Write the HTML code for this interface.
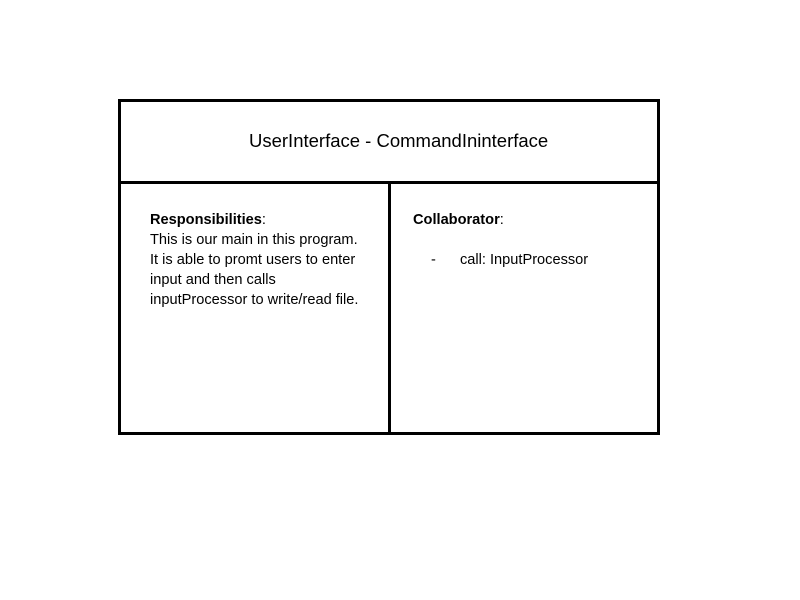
<!DOCTYPE html>
<html><head><style>
body{margin:0;width:800px;height:600px;background:#fff;position:relative;font-family:"Liberation Sans",sans-serif;color:#000;overflow:hidden}
.l{position:absolute;background:#000}
.t{position:absolute;font-size:14.6px;line-height:20px;white-space:nowrap}
</style></head><body>
<div class="l" style="left:118px;top:99px;width:542px;height:3px"></div>
<div class="l" style="left:118px;top:432px;width:542px;height:3px"></div>
<div class="l" style="left:118px;top:99px;width:3px;height:336px"></div>
<div class="l" style="left:657px;top:99px;width:3px;height:336px"></div>
<div class="l" style="left:118px;top:181px;width:542px;height:3px"></div>
<div class="l" style="left:388px;top:183px;width:3px;height:251px"></div>
<div class="t" style="left:249px;top:130px;font-size:18.5px;line-height:22px">UserInterface - CommandIninterface</div>
<div class="t" style="left:150px;top:210px"><b>Responsibilities</b>:<br>This is our main in this program.<br>It is able to promt users to enter<br>input and then calls<br>inputProcessor to write/read file.</div>
<div class="t" style="left:413px;top:210px"><b>Collaborator</b>:</div>
<div class="t" style="left:431px;top:250px">-</div>
<div class="t" style="left:460px;top:250px">call: InputProcessor</div>
</body></html>
